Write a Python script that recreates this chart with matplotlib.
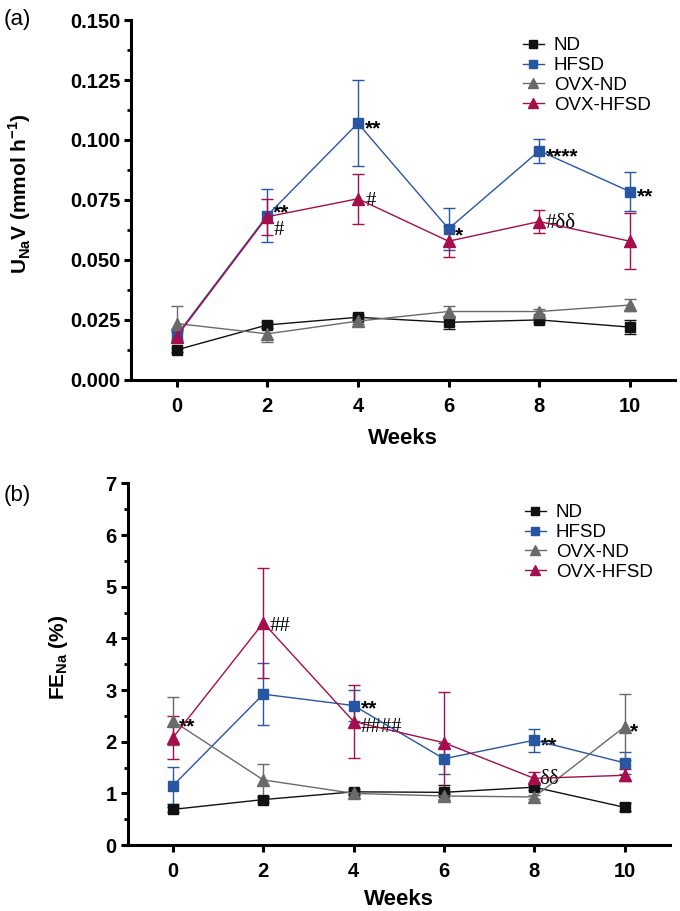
import matplotlib
matplotlib.use("Agg")
import matplotlib.pyplot as plt
from matplotlib.lines import Line2D
from matplotlib.ticker import MultipleLocator, FormatStrFormatter

plt.rcParams['font.family'] = ['Liberation Sans', 'DejaVu Sans']
plt.rcParams['mathtext.fontset'] = 'custom'
plt.rcParams['mathtext.rm'] = 'Liberation Sans:bold'
plt.rcParams['mathtext.bf'] = 'Liberation Sans:bold'

weeks = [0, 2, 4, 6, 8, 10]
groups = ['ND', 'HFSD', 'OVX-ND', 'OVX-HFSD']

# panel (a): urinary sodium excretion, mmol/h
una_nd = [0.0125, 0.0229, 0.0261, 0.0240, 0.0250, 0.0220]
una_nd_err = [0.0010, 0.0012, 0.0010, 0.0027, 0.0010, 0.0030]
una_hfsd = [0.0186, 0.0685, 0.1070, 0.0630, 0.0955, 0.0785]
una_hfsd_err = [0.0020, 0.0112, 0.0178, 0.0087, 0.0050, 0.0083]
una_ovxnd = [0.0235, 0.0192, 0.0245, 0.0285, 0.0285, 0.0312]
una_ovxnd_err = [0.0071, 0.0032, 0.0010, 0.0025, 0.0010, 0.0025]
una_ovxhfsd = [0.0180, 0.0680, 0.0755, 0.0578, 0.0660, 0.0578]
una_ovxhfsd_err = [0.0020, 0.0075, 0.0105, 0.0065, 0.0049, 0.0117]

# panel (b): fractional sodium excretion, %
fe_nd = [0.69, 0.88, 1.03, 1.02, 1.12, 0.73]
fe_nd_err = [0.05, 0.05, 0.05, 0.15, 0.06, 0.08]
fe_hfsd = [1.15, 2.92, 2.70, 1.67, 2.03, 1.59]
fe_hfsd_err = [0.36, 0.60, 0.30, 0.30, 0.22, 0.22]
fe_ovxnd = [2.40, 1.26, 1.00, 0.95, 0.93, 2.29]
fe_ovxnd_err = [0.47, 0.31, 0.04, 0.05, 0.04, 0.64]
fe_ovxhfsd = [2.08, 4.30, 2.39, 1.98, 1.29, 1.35]
fe_ovxhfsd_err = [0.42, 1.06, 0.71, 0.99, 0.12, 0.12]

# significance marks: text, x, y (y = height of the mark's centre)
ann_a_text = ['**', '#', '**', '#', '*', '****', '#δδ', '**']
ann_a_x = [2.13, 2.15, 4.15, 4.16, 6.15, 8.15, 8.15, 10.15]
ann_a_y = [0.0720, 0.0634, 0.1070, 0.0752, 0.0625, 0.0955, 0.0660, 0.0785]
ann_b_text = ['**', '##', '**', '####', '**', 'δδ', '*']
ann_b_x = [0.12, 2.15, 4.15, 4.15, 8.15, 8.12, 10.12]
ann_b_y = [2.40, 4.28, 2.74, 2.33, 2.03, 1.31, 2.29]

colors = ['#111111', '#2756a3', '#6a6a6a', '#a50d4c']
markers = ['s', 's', '^', '^']
msizes = [7.5, 7.5, 8.5, 8.5]

fig = plt.figure(figsize=(6.8, 9.11), dpi=100)
ax1 = fig.add_axes([0.193, 0.583, 0.80, 0.395])
ax2 = fig.add_axes([0.188, 0.0724, 0.797, 0.397])


def draw(ax, series, errs):
    for vals, err, c, m, ms in zip(series, errs, colors, markers, msizes):
        ax.errorbar(weeks, vals, yerr=err, color=c, lw=1.0, elinewidth=1.0,
                    capsize=4, capthick=1.0, marker=m, ms=ms, mec=c, mfc=c, zorder=3)


def style(ax, ymax, major, minor, xpad):
    ax.set_xlim(-1, 11)
    ax.set_ylim(0, ymax)
    ax.set_xticks(weeks)
    ax.yaxis.set_major_locator(MultipleLocator(major))
    ax.yaxis.set_minor_locator(MultipleLocator(minor))
    for s in ['top', 'right']:
        ax.spines[s].set_visible(False)
    for s in ['left', 'bottom']:
        ax.spines[s].set_linewidth(2.2)
    ax.tick_params(which='major', length=5, width=2.2, labelsize=14.5)
    ax.tick_params(axis='x', pad=7)
    ax.tick_params(axis='y', pad=3)
    ax.tick_params(which='minor', length=3, width=2.0)
    ax.set_xlabel('Weeks', fontsize=16, fontweight='bold', labelpad=xpad)
    handles = [Line2D([], [], color=c, marker=m, ms=ms * 0.85, lw=1.0)
               for c, m, ms in zip(colors, markers, msizes)]
    ax.legend(handles, groups, loc='upper left', frameon=False, fontsize=13.5,
              handlelength=1.1, handletextpad=0.55, labelspacing=0.15,
              borderpad=0, borderaxespad=0, bbox_transform=fig.transFigure)


def annotate(ax, texts, xs, ys):
    for t, x, y in zip(texts, xs, ys):
        if '*' in t:
            ax.annotate(t, (x, y), xytext=(0, -8), textcoords='offset points',
                        fontsize=15, fontweight='bold', ha='left', va='baseline')
        else:
            ax.annotate(t, (x, y), xytext=(0, -5), textcoords='offset points',
                        fontsize=15, family=['Liberation Serif', 'DejaVu Serif'],
                        ha='left', va='baseline')


draw(ax1, [una_nd, una_hfsd, una_ovxnd, una_ovxhfsd],
     [una_nd_err, una_hfsd_err, una_ovxnd_err, una_ovxhfsd_err])
style(ax1, 0.150, 0.025, 0.0125, 9)
ax1.yaxis.set_major_formatter(FormatStrFormatter('%.3f'))
ax1.set_ylabel(r'U$_{\mathbf{Na}}$V (mmol h$^{\mathbf{-1}}$)', fontsize=15,
               fontweight='bold')
ax1.yaxis.set_label_coords(-0.180, 0.518)
ax1.get_legend().set_bbox_to_anchor((523 / 680, 1 - 37 / 911), transform=fig.transFigure)
annotate(ax1, ann_a_text, ann_a_x, ann_a_y)

draw(ax2, [fe_nd, fe_hfsd, fe_ovxnd, fe_ovxhfsd],
     [fe_nd_err, fe_hfsd_err, fe_ovxnd_err, fe_ovxhfsd_err])
style(ax2, 7, 1, 0.5, 6)
ax2.set_ylabel(r'FE$_{\mathbf{Na}}$ (%)', fontsize=15, fontweight='bold')
ax2.yaxis.set_label_coords(-0.107, 0.52)
ax2.get_legend().set_bbox_to_anchor((525 / 680, 1 - 504 / 911), transform=fig.transFigure)
annotate(ax2, ann_b_text, ann_b_x, ann_b_y)

for ax in [ax1, ax2]:
    for lab in ax.get_xticklabels() + ax.get_yticklabels():
        lab.set_fontweight('bold')

fig.text(0.006, 1 - 20 / 911, '(a)', fontsize=16, va='center', ha='left')
fig.text(0.006, 1 - 495 / 911, '(b)', fontsize=16, va='center', ha='left')

fig.savefig('out.png', dpi=100)
